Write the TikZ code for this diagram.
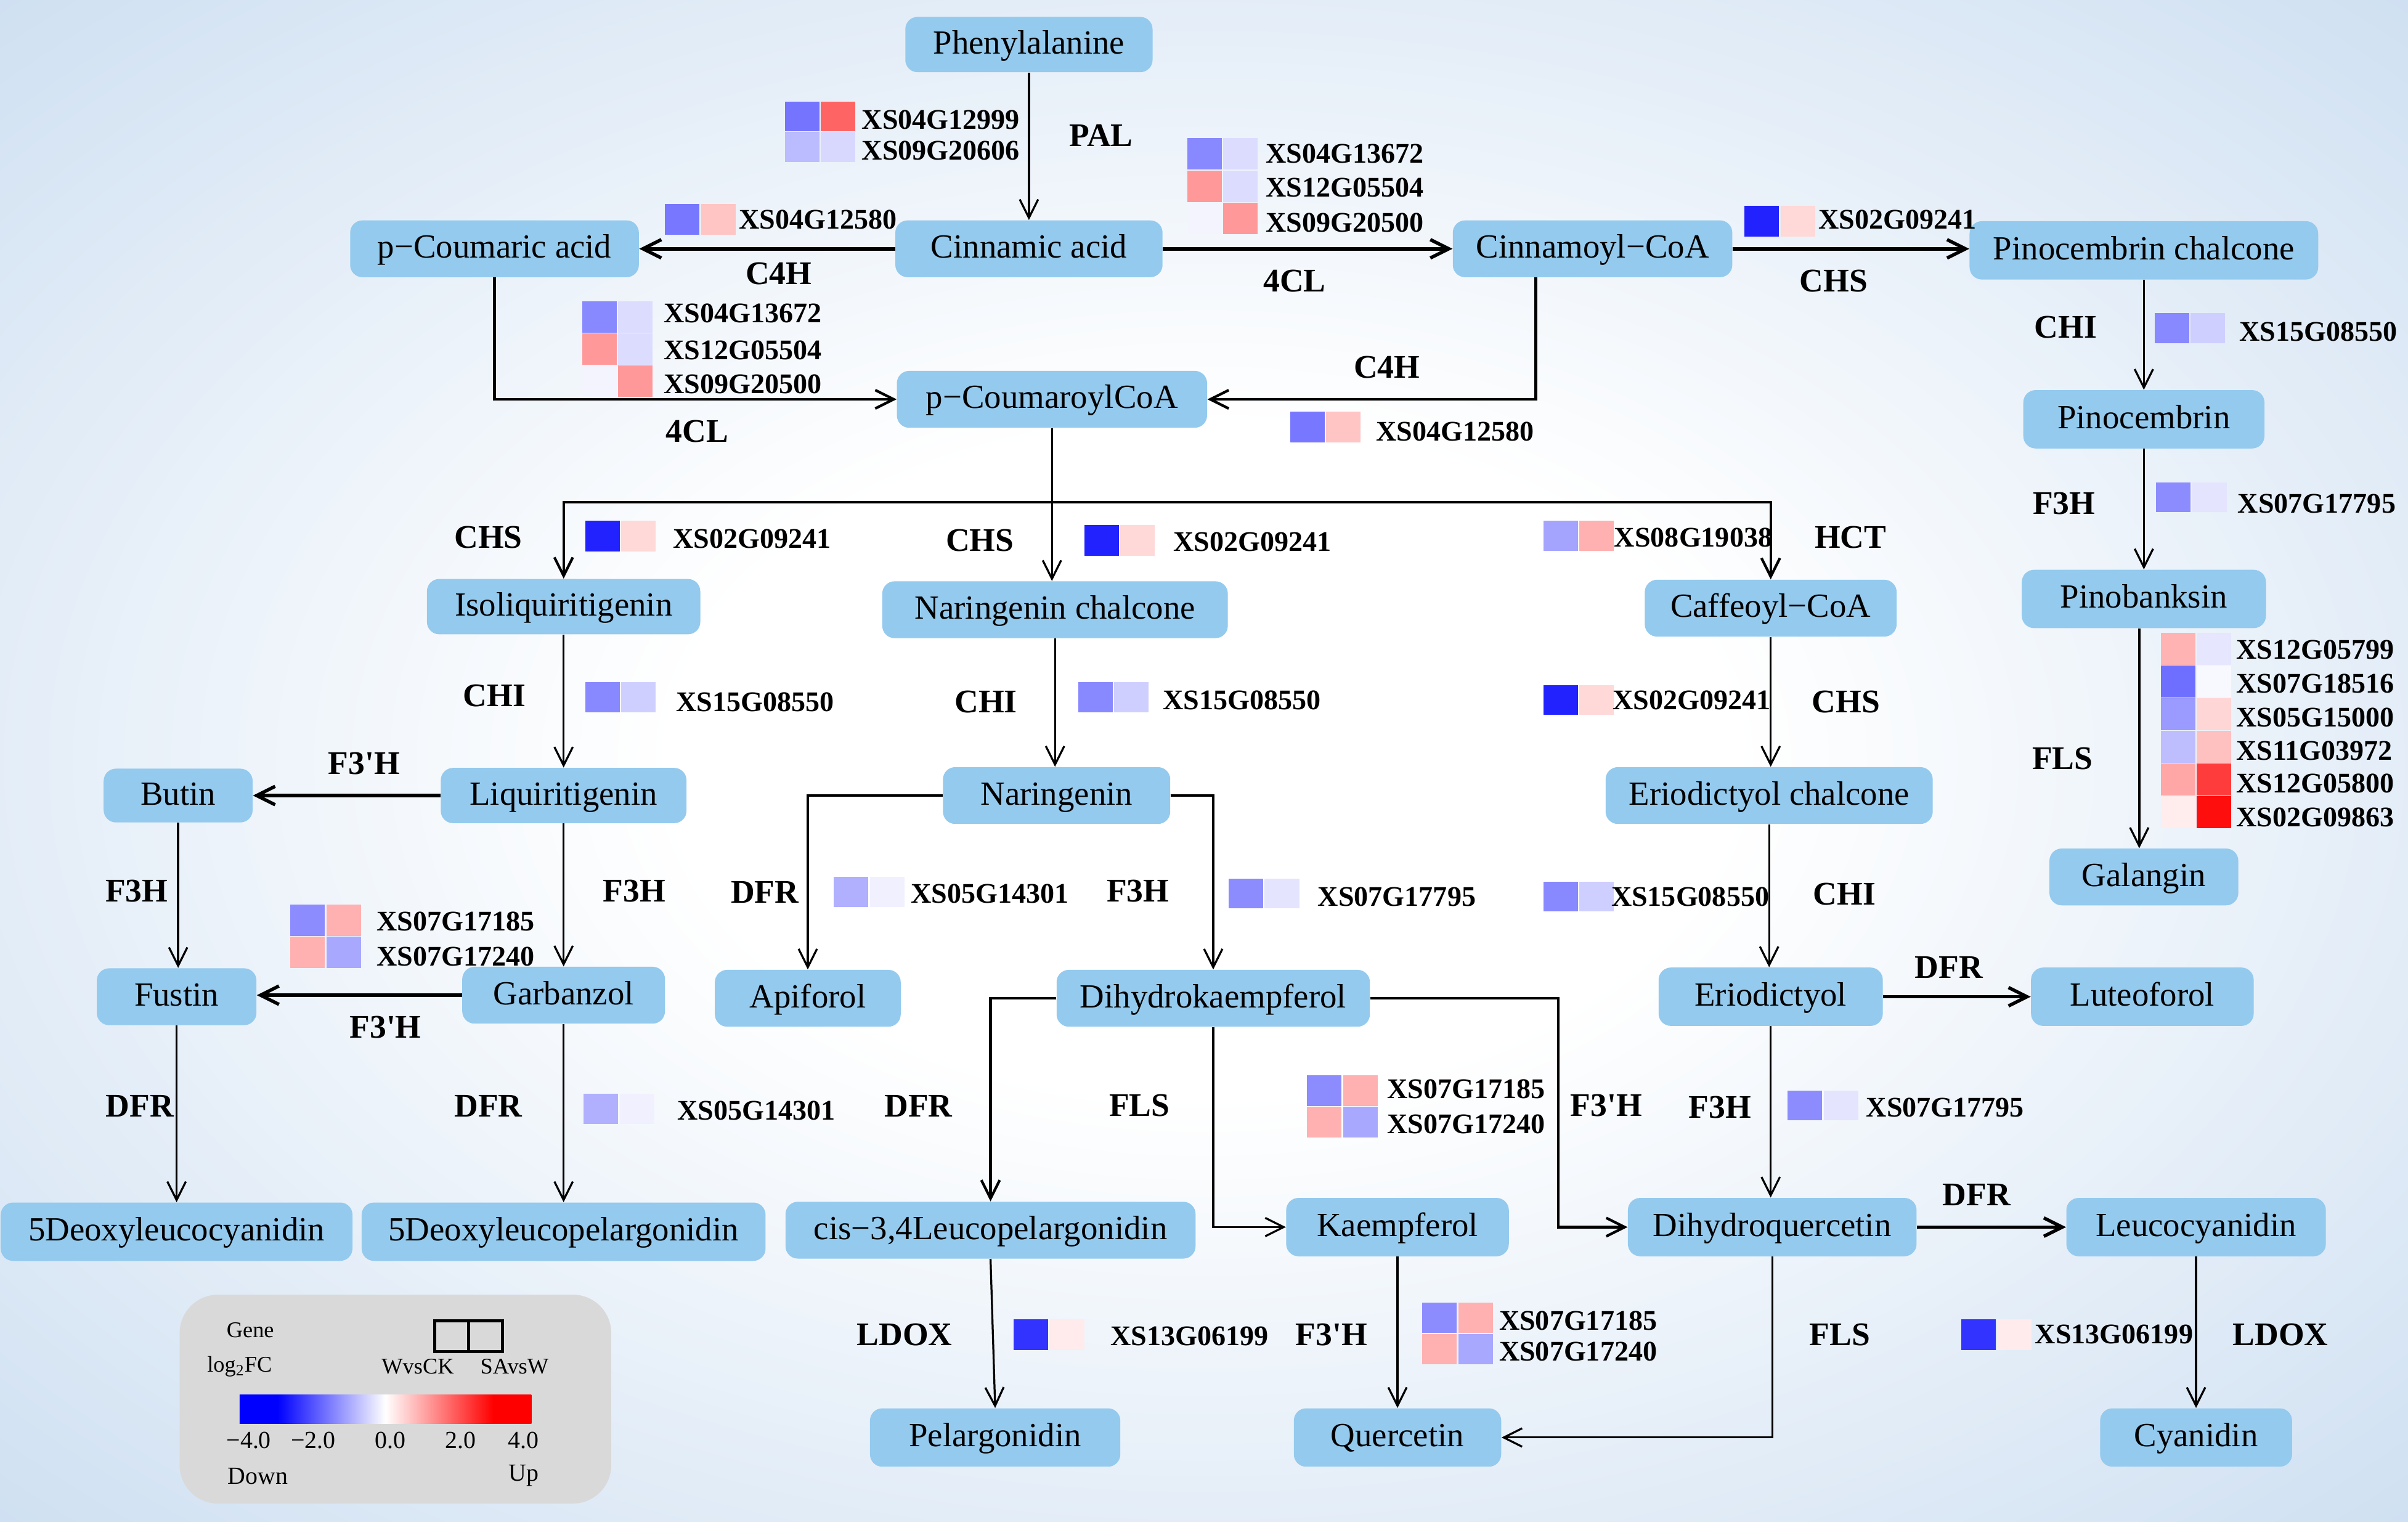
\documentclass[tikz,border=0pt]{standalone}
\usepackage{fontspec}
\setmainfont{Liberation Serif}
\usetikzlibrary{arrows.meta}
\definecolor{nodeblue}{HTML}{94CAEE}
\definecolor{bgout}{HTML}{CCDEF1}
\definecolor{leggray}{HTML}{D9D9D9}
\pgfdeclareradialshading{bgshade}{\pgfpoint{0bp}{0bp}}{color(0bp)=(white); color(11bp)=(white); color(37bp)=(bgout); color(60bp)=(bgout)}
\pgfdeclarehorizontalshading{legbar}{100bp}{color(0bp)=(blue); color(31.5bp)=(blue); color(50bp)=(white); color(68.5bp)=(red); color(100bp)=(red)}
\newcommand{\hmrow}[5]{\definecolor{hmA}{HTML}{#4}\definecolor{hmB}{HTML}{#5}\fill[hmA] (#1,#2) rectangle ++(22.5,#3);\fill[hmB] (#1+23.5,#2) rectangle ++(22.5,#3);}
\tikzset{
  cbox/.style={fill=nodeblue, rounded corners=8pt, inner sep=0pt, text height=15pt, text depth=3pt, font=\fontsize{22}{26}\selectfont},
  enz/.style={inner sep=0pt, font=\bfseries\fontsize{21.5}{25}\selectfont},
  gene/.style={inner sep=0pt, anchor=west, font=\bfseries\fontsize{18.5}{22}\selectfont},
  legt/.style={inner sep=0pt, font=\fontsize{14.6}{17}\selectfont},
  legn/.style={inner sep=0pt, font=\fontsize{16}{19}\selectfont},
  arr/.style={-{Straight Barb[length=12pt,width=12pt]}, line width=1.3pt},
  arrm/.style={-{Straight Barb[length=12pt,width=12pt]}, line width=1.7pt},
  tarr/.style={-{Straight Barb[length=12pt,width=12pt]}, line width=2.2pt}
}
\begin{document}
\begin{tikzpicture}[x=1pt,y=-1pt]
\useasboundingbox (0,0) rectangle (1568,991);
\shade[shading=bgshade] (0,0) rectangle (1568,991);

% ---------- nodes ----------
\node[cbox, minimum width=161, minimum height=36] (phe) at (670,29) {Phenylalanine};
\node[cbox, minimum width=174, minimum height=37] (cin) at (670,162) {Cinnamic acid};
\node[cbox, minimum width=188, minimum height=37] (pcou) at (322,162) {p−Coumaric acid};
\node[cbox, minimum width=182, minimum height=37] (ccoa) at (1037,162) {Cinnamoyl−CoA};
\node[cbox, minimum width=227, minimum height=38] (pchal) at (1396,163) {Pinocembrin chalcone};
\node[cbox, minimum width=202, minimum height=37] (pcoa) at (685,260) {p−CoumaroylCoA};
\node[cbox, minimum width=157, minimum height=38] (pino) at (1396,273) {Pinocembrin};
\node[cbox, minimum width=159, minimum height=38] (pinob) at (1396,390) {Pinobanksin};
\node[cbox, minimum width=123, minimum height=37] (gal) at (1396,571) {Galangin};
\node[cbox, minimum width=178, minimum height=36] (isol) at (367,395) {Isoliquiritigenin};
\node[cbox, minimum width=225, minimum height=37] (nchal) at (687,397) {Naringenin chalcone};
\node[cbox, minimum width=164, minimum height=37] (caff) at (1153,396) {Caffeoyl−CoA};
\node[cbox, minimum width=97, minimum height=35] (butin) at (116,518) {Butin};
\node[cbox, minimum width=160, minimum height=36] (liq) at (367,518) {Liquiritigenin};
\node[cbox, minimum width=148, minimum height=37] (nar) at (688,518) {Naringenin};
\node[cbox, minimum width=213, minimum height=37] (echal) at (1152,518) {Eriodictyol chalcone};
\node[cbox, minimum width=104, minimum height=37] (fus) at (115,649) {Fustin};
\node[cbox, minimum width=132, minimum height=37] (garb) at (367,648) {Garbanzol};
\node[cbox, minimum width=121, minimum height=37] (api) at (526,650) {Apiforol};
\node[cbox, minimum width=204, minimum height=37] (dhk) at (790,650) {Dihydrokaempferol};
\node[cbox, minimum width=146, minimum height=38] (erio) at (1153,649) {Eriodictyol};
\node[cbox, minimum width=145, minimum height=38] (lute) at (1395,649) {Luteoforol};
\node[cbox, minimum width=229, minimum height=38] (dlc) at (115,802) {5Deoxyleucocyanidin};
\node[cbox, minimum width=263, minimum height=38] (dlp) at (367,802) {5Deoxyleucopelargonidin};
\node[cbox, minimum width=267, minimum height=37] (cis) at (645,801) {cis−3,4Leucopelargonidin};
\node[cbox, minimum width=145, minimum height=38] (kae) at (910,799) {Kaempferol};
\node[cbox, minimum width=188, minimum height=38] (dhq) at (1154,799) {Dihydroquercetin};
\node[cbox, minimum width=169, minimum height=38] (leu) at (1430,799) {Leucocyanidin};
\node[cbox, minimum width=163, minimum height=38] (pel) at (648,936) {Pelargonidin};
\node[cbox, minimum width=135, minimum height=38] (que) at (910,936) {Quercetin};
\node[cbox, minimum width=125, minimum height=38] (cya) at (1430,936) {Cyanidin};

% ---------- connectors ----------
\draw[arr] (phe.south) -- (cin.north);
\draw[tarr] (cin.west) -- (pcou.east);
\draw[tarr] (cin.east) -- (ccoa.west);
\draw[tarr] (ccoa.east) -- (ccoa.east -| pchal.west);
\draw[arrm] ([xshift=-37pt]ccoa.south) |- (pcoa.east);
\draw[arrm] (pcou.south) |- (pcoa.west);
\draw[arr] (pchal.south) -- (pino.north);
\draw[arr] (pino.south) -- (pinob.north);
\draw[arr] ([xshift=-3pt]pinob.south) -- ([xshift=-3pt]gal.north);
\coordinate (br) at (685,327);
\draw[line width=1.3pt] (pcoa.south) -- (br);
\draw[arrm] (br) -| (isol.north);
\draw[arrm] (br) -| (caff.north);
\draw[arr] (br) -- (br |- nchal.north);
\draw[arr] (isol.south) -- (liq.north);
\draw[arr] (nchal.south) -- (nchal.south |- nar.north);
\draw[arr] (caff.south) -- (caff.south |- echal.north);
\draw[tarr] (liq.west) -- (liq.west -| butin.east);
\draw[arr] (butin.south) -- (butin.south |- fus.north);
\draw[arr] (liq.south) -- (garb.north);
\draw[tarr] (garb.west) -- (garb.west -| fus.east);
\draw[arr] (nar.west) -| (api.north);
\draw[arr] (nar.east) -| (dhk.north);
\draw[arr] (echal.south) -- (echal.south |- erio.north);
\draw[tarr] (erio.east) -- (erio.east -| lute.west);
\draw[arr] (fus.south) -- (dlc.north);
\draw[arr] (garb.south) -- (dlp.north);
\draw[arrm] (dhk.west) -| (cis.north);
\draw[arr] (dhk.south) |- (kae.west);
\draw[arrm] (dhk.east) -| ([xshift=-45pt]dhq.west) -- (dhq.west);
\draw[arr] (erio.south) -- (erio.south |- dhq.north);
\draw[tarr] (dhq.east) -- (leu.west);
\draw[arr] (dhq.south) |- (que.east);
\draw[arr] (cis.south) -- (pel.north);
\draw[arr] (kae.south) -- (que.north);
\draw[arr] (leu.south) -- (cya.north);

% ---------- enzyme labels ----------
\node[enz] (e1) at (717,88) {PAL};
\node[enz] (e2) at (507,178) {C4H};
\node[enz] (e3) at (843,183) {4CL};
\node[enz] (e4) at (1194,183) {CHS};
\node[enz] (e5) at (903,239) {C4H};
\node[enz] (e6) at (454,281) {4CL};
\node[enz] (e7) at (1345,213) {CHI};
\node[enz] (e8) at (1344,328) {F3H};
\node[enz] (e9) at (1343,494) {FLS};
\node[enz] (e10) at (318,350) {CHS};
\node[enz] (e11) at (638,352) {CHS};
\node[enz] (e12) at (1205,350) {HCT};
\node[enz] (e13) at (322,453) {CHI};
\node[enz] (e14) at (642,457) {CHI};
\node[enz] (e15) at (1202,457) {CHS};
\node[enz] (e16) at (237,497) {F3\textquotesingle H};
\node[enz] (e17) at (89,580) {F3H};
\node[enz] (e18) at (413,580) {F3H};
\node[enz] (e19) at (498,581) {DFR};
\node[enz] (e20) at (741,580) {F3H};
\node[enz] (e21) at (1201,582) {CHI};
\node[enz] (e22) at (251,669) {F3\textquotesingle H};
\node[enz] (e23) at (1269,630) {DFR};
\node[enz] (e24) at (91,720) {DFR};
\node[enz] (e25) at (318,720) {DFR};
\node[enz] (e26) at (598,720) {DFR};
\node[enz] (e27) at (742,720) {FLS};
\node[enz] (e28) at (1046,720) {F3\textquotesingle H};
\node[enz] (e29) at (1120,721) {F3H};
\node[enz] (e30) at (1287,778) {DFR};
\node[enz] (e31) at (589,869) {LDOX};
\node[enz] (e32) at (867,869) {F3\textquotesingle H};
\node[enz] (e33) at (1198,869) {FLS};
\node[enz] (e34) at (1485,869) {LDOX};

% ---------- heatmaps ----------
\hmrow{511}{66}{19.5}{7474FF}{FF6464}
\hmrow{511}{86}{19.5}{BBBBFF}{D8D8FF}
\hmrow{433}{133}{20}{7777FF}{FFC4C4}
\hmrow{773}{90}{20.5}{8888FF}{DCDCFF}
\hmrow{773}{111}{20.5}{FF9999}{DCDCFF}
\hmrow{773}{132}{20.5}{F4F4FF}{FF9999}
\hmrow{1136}{134}{20}{2222FF}{FFD8D8}
\hmrow{379}{196}{20.5}{8888FF}{DCDCFF}
\hmrow{379}{217}{20.5}{FF9999}{DCDCFF}
\hmrow{379}{238}{20.5}{F4F4FF}{FF9999}
\hmrow{840}{268}{20}{7777FF}{FFC4C4}
\hmrow{1403}{204}{19.5}{8888FF}{CFCFFF}
\hmrow{1404}{314}{19.5}{8C8CFF}{E4E4FF}
\hmrow{1407}{412}{20.8}{FFB3B3}{E6E6FF}
\hmrow{1407}{433.3}{20.8}{6E6EFF}{F8F8FF}
\hmrow{1407}{454.6}{20.8}{9A9AFF}{FFD6D6}
\hmrow{1407}{475.9}{20.8}{BEBEFF}{FFC0C0}
\hmrow{1407}{497.2}{20.8}{FFA6A6}{FF3C3C}
\hmrow{1407}{518.5}{20.8}{FFEDED}{FF0E0E}
\hmrow{381}{339}{20}{2222FF}{FFD8D8}
\hmrow{706}{342}{20}{2222FF}{FFD8D8}
\hmrow{1005}{339}{19.5}{A4A4FF}{FFB0B0}
\hmrow{381}{444}{20}{8888FF}{CFCFFF}
\hmrow{702}{444}{20}{8888FF}{CFCFFF}
\hmrow{1005}{446}{19.5}{2222FF}{FFD8D8}
\hmrow{189}{589}{20.5}{8C8CFF}{FFB0B0}
\hmrow{189}{610}{20.5}{FFB0B0}{A8A8FF}
\hmrow{543}{571}{19.5}{B0B0FF}{F0F0FF}
\hmrow{800}{572}{19.5}{8C8CFF}{E4E4FF}
\hmrow{1005}{574}{19.5}{8888FF}{CFCFFF}
\hmrow{380}{712}{20}{B0B0FF}{F0F0FF}
\hmrow{851}{700}{20}{8C8CFF}{FFB0B0}
\hmrow{851}{720.5}{20}{FFB0B0}{A8A8FF}
\hmrow{1164}{710}{19.5}{8C8CFF}{E4E4FF}
\hmrow{660}{859}{20}{3333FF}{FFEBEB}
\hmrow{926}{848}{20}{8C8CFF}{FFB0B0}
\hmrow{926}{868.5}{20}{FFB0B0}{A8A8FF}
\hmrow{1277}{859}{20}{3333FF}{FFEBEB}

% ---------- gene labels ----------
\node[gene] (g1) at (561,78) {XS04G12999};
\node[gene] (g2) at (561,98) {XS09G20606};
\node[gene] (g3) at (481,143) {XS04G12580};
\node[gene] (g4) at (824,100) {XS04G13672};
\node[gene] (g5) at (824,122) {XS12G05504};
\node[gene] (g6) at (824,145) {XS09G20500};
\node[gene] (g7) at (1184,143) {XS02G09241};
\node[gene] (g8) at (432,204) {XS04G13672};
\node[gene] (g9) at (432,228) {XS12G05504};
\node[gene] (g10) at (432,250) {XS09G20500};
\node[gene] (g11) at (896,281) {XS04G12580};
\node[gene] (g12) at (1458,216) {XS15G08550};
\node[gene] (g13) at (1457,328) {XS07G17795};
\node[gene] (g14) at (1456,423) {XS12G05799};
\node[gene] (g15) at (1456,445) {XS07G18516};
\node[gene] (g16) at (1456,467) {XS05G15000};
\node[gene] (g17) at (1456,489) {XS11G03972};
\node[gene] (g18) at (1456,510) {XS12G05800};
\node[gene] (g19) at (1456,532) {XS02G09863};
\node[gene] (g20) at (438,351) {XS02G09241};
\node[gene] (g21) at (764,353) {XS02G09241};
\node[gene] (g22) at (1051,350) {XS08G19038};
\node[gene] (g23) at (440,457) {XS15G08550};
\node[gene] (g24) at (757,456) {XS15G08550};
\node[gene] (g25) at (1050,456) {XS02G09241};
\node[gene] (g26) at (245,600) {XS07G17185};
\node[gene] (g27) at (245,623) {XS07G17240};
\node[gene] (g28) at (593,582) {XS05G14301};
\node[gene] (g29) at (858,584) {XS07G17795};
\node[gene] (g30) at (1049,584) {XS15G08550};
\node[gene] (g31) at (441,723) {XS05G14301};
\node[gene] (g32) at (903,709) {XS07G17185};
\node[gene] (g33) at (903,732) {XS07G17240};
\node[gene] (g34) at (1215,721) {XS07G17795};
\node[gene] (g35) at (723,870) {XS13G06199};
\node[gene] (g36) at (976,860) {XS07G17185};
\node[gene] (g37) at (976,880) {XS07G17240};
\node[gene] (g38) at (1325,869) {XS13G06199};

% ---------- legend ----------
\node[fill=leggray, rounded corners=25pt, minimum width=281, minimum height=136, inner sep=0pt] (leg) at (257.5,911) {};
\node[legt] (lg1) at (163,866) {Gene};
\node[legt] (lg2) at (156,890) {log\textsubscript{2}FC};
\node[legt] (lg3) at (272,890) {WvsCK};
\node[legt] (lg4) at (335,890) {SAvsW};
\draw[line width=2pt] (283,860) rectangle (305,880);
\draw[line width=2pt] (305,860) rectangle (327,880);
\shade[shading=legbar] (156,908) rectangle (346,927);
\node[legn] (t1) at (162,938) {−4.0};
\node[legn] (t2) at (204,938) {−2.0};
\node[legn] (t3) at (254,938) {0.0};
\node[legn] (t4) at (300,938) {2.0};
\node[legn] (t5) at (341,938) {4.0};
\node[legn] (t6) at (168,961) {Down};
\node[legn] (t7) at (341,961) {Up};
\end{tikzpicture}
\end{document}
